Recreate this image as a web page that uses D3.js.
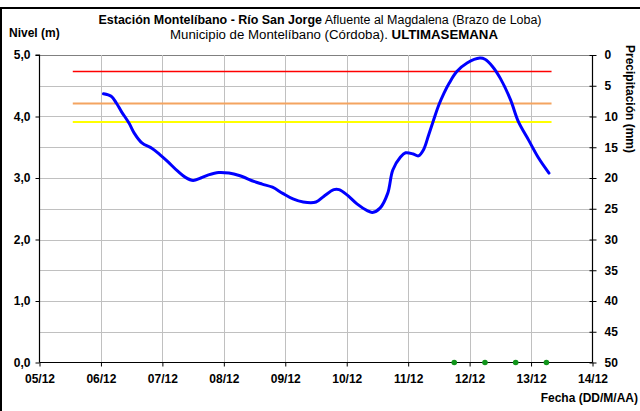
<!DOCTYPE html>
<html>
<head>
<meta charset="utf-8">
<script src="https://cdn.jsdelivr.net/npm/d3@7"></script>
<style>
  html, body { margin: 0; padding: 0; background: #fff; }
  svg { display: block; font-family: "Liberation Sans", Arial, sans-serif; }
</style>
</head>
<body>
<svg id="chart" width="640" height="411"></svg>
<script>
// Hourly river level readings (m), station Montelíbano
const levelTimes = [
  "06/12 01:00","06/12 04:00","06/12 06:00","06/12 08:00","06/12 11:00","06/12 13:00",
  "06/12 16:00","06/12 20:00","06/12 23:00","07/12 02:00","07/12 06:00","07/12 09:00",
  "07/12 12:00","07/12 15:00","07/12 18:00","07/12 22:00","08/12 02:00","08/12 06:00",
  "08/12 12:00","08/12 15:00","08/12 19:00","08/12 23:00","09/12 03:00","09/12 07:00",
  "09/12 12:00","09/12 15:00","09/12 19:00","09/12 21:00","10/12 00:00","10/12 04:00",
  "10/12 08:00","10/12 10:00","10/12 13:00","10/12 16:00","10/12 18:00","10/12 21:00",
  "10/12 23:00","11/12 02:00","11/12 04:00","11/12 06:00","11/12 08:00","11/12 10:00",
  "11/12 12:00","11/12 14:00","11/12 16:00","11/12 19:00","11/12 23:00","12/12 04:00",
  "12/12 06:00","12/12 09:00","12/12 12:00","12/12 16:00","12/12 19:00","12/12 23:00",
  "13/12 03:00","13/12 07:00"
];
const levelValues = [
  4.37, 4.33, 4.22, 4.08, 3.89, 3.73,
  3.57, 3.48, 3.38, 3.27, 3.11, 3.01,
  2.96, 3.00, 3.05, 3.09, 3.08, 3.04,
  2.94, 2.90, 2.85, 2.75, 2.66, 2.61,
  2.61, 2.70, 2.81, 2.81, 2.73, 2.58,
  2.47, 2.44, 2.51, 2.75, 3.13, 3.34,
  3.41, 3.39, 3.36, 3.46, 3.70, 3.95,
  4.19, 4.38, 4.54, 4.73, 4.87, 4.95,
  4.93, 4.81, 4.62, 4.27, 3.92, 3.62,
  3.32, 3.08
];

// Alert thresholds (m)
const thresholdNames = ["roja", "naranja", "amarilla"];
const thresholdValues = [4.73, 4.21, 3.91];
const thresholdSpan = ["05/12 13:00", "13/12 08:00"];

// Precipitation readings (mm)
const rainTimes = ["11/12 18:00", "12/12 06:00", "12/12 18:00", "13/12 06:00"];
const rainValues = [0, 0, 0, 0];

// Axis ticks
const dayTicks = ["05/12","06/12","07/12","08/12","09/12","10/12","11/12","12/12","13/12","14/12"];
const levelTicks = [0, 1, 2, 3, 4, 5];
const levelGrid = [0.5, 1, 1.5, 2, 2.5, 3, 3.5, 4, 4.5];
const rainTicks = [0, 5, 10, 15, 20, 25, 30, 35, 40, 45, 50];

const thresholdColors = { "roja": "#ff0000", "naranja": "#f4a460", "amarilla": "#ffff00" };

const parseTime = d3.timeParse("%d/%m %H:%M");
const parseDay = d3.timeParse("%d/%m");

const svg = d3.select("#chart");
const plot = { left: 39.5, right: 592.5, top: 55, bottom: 362.5 };

const x = d3.scaleTime()
  .domain([parseDay("05/12"), parseDay("14/12")])
  .range([plot.left, plot.right]);
const y = d3.scaleLinear().domain([0, 5]).range([plot.bottom, plot.top]);
const yRain = d3.scaleLinear().domain([0, 50]).range([plot.top, plot.bottom]);

// outer frame
svg.append("rect")
  .attr("x", 1).attr("y", 8).attr("width", 700).attr("height", 500)
  .attr("fill", "none").attr("stroke", "#000").attr("stroke-width", 2);

// gridlines
const grid = svg.append("g").attr("stroke", "#c0c0c0").attr("stroke-width", 1);
grid.selectAll("line.h").data(levelGrid.concat([5])).join("line")
  .attr("x1", plot.left).attr("x2", plot.right)
  .attr("y1", d => Math.round(y(d)) + 0.5).attr("y2", d => Math.round(y(d)) + 0.5)
  .attr("stroke", d => d === 5 ? "#808080" : "#c0c0c0");
grid.selectAll("line.v").data(dayTicks.slice(1, -1)).join("line")
  .attr("x1", d => Math.round(x(parseDay(d))) + 0.5).attr("x2", d => Math.round(x(parseDay(d))) + 0.5)
  .attr("y1", plot.top).attr("y2", plot.bottom);

// thresholds
svg.append("g").selectAll("line").data(thresholdNames).join("line")
  .attr("x1", x(parseTime(thresholdSpan[0])))
  .attr("x2", x(parseTime(thresholdSpan[1])))
  .attr("y1", (d, i) => y(thresholdValues[i]))
  .attr("y2", (d, i) => y(thresholdValues[i]))
  .attr("stroke", d => thresholdColors[d])
  .attr("stroke-width", d => d === "roja" ? 1.5 : 2);

// level curve
const levelData = levelTimes.map((t, i) => ({ t: parseTime(t), v: levelValues[i] }));
svg.append("path")
  .datum(levelData)
  .attr("fill", "none")
  .attr("stroke", "#0000ff")
  .attr("stroke-width", 3)
  .attr("stroke-linecap", "round")
  .attr("d", d3.line().x(d => x(d.t)).y(d => y(d.v)).curve(d3.curveCatmullRom.alpha(0.5)));

// axes
const fmtLevel = d => d3.format(".1f")(d).replace(".", ",");
const axisLeft = svg.append("g")
  .attr("transform", `translate(${plot.left},0)`)
  .call(d3.axisLeft(y).tickValues(levelTicks).tickFormat(fmtLevel).tickSize(4).tickPadding(5));
const axisBottom = svg.append("g")
  .attr("transform", `translate(0,${plot.bottom})`)
  .call(d3.axisBottom(x).tickValues(dayTicks.map(parseDay)).tickFormat(d3.timeFormat("%d/%m")).tickSize(4).tickPadding(8));
const axisRight = svg.append("g")
  .attr("transform", `translate(${plot.right},0)`)
  .call(d3.axisRight(yRain).tickValues(rainTicks).tickSizeInner(4).tickSizeOuter(0).tickPadding(8));
axisRight.selectAll(".tick line").attr("x1", -3);

[axisLeft, axisBottom, axisRight].forEach(g => {
  g.select(".domain").attr("stroke", "#000").attr("stroke-width", 1.2);
  g.selectAll(".tick line").attr("stroke", "#000");
  g.selectAll("text").attr("fill", "#000")
    .style("font-family", "'Liberation Sans', Arial, sans-serif")
    .style("font-size", "12px").style("font-weight", "bold");
});
axisLeft.select(".domain").attr("d", `M-4,${plot.top}H0V${plot.bottom}`);
axisBottom.select(".domain").attr("d", `M${plot.left},0H${plot.right}`);
axisRight.select(".domain").attr("d", `M0,${plot.top}V${plot.bottom}`);

// rain readings
svg.append("g").selectAll("circle").data(rainTimes).join("circle")
  .attr("cx", d => x(parseTime(d)))
  .attr("cy", (d, i) => y(rainValues[i]))
  .attr("r", 2.8)
  .attr("fill", "#10951a");

// titles
const title = svg.append("text")
  .attr("x", 320).attr("y", 24).attr("text-anchor", "middle")
  .attr("textLength", 443).attr("lengthAdjust", "spacingAndGlyphs")
  .style("font-size", "12.5px").attr("fill", "#000");
title.append("tspan").attr("font-weight", "bold").text("Estación Montelíbano  - Río San Jorge");
title.append("tspan").text(" Afluente al Magdalena (Brazo de Loba)");

const title2 = svg.append("text")
  .attr("x", 334).attr("y", 39).attr("text-anchor", "middle")
  .attr("textLength", 328).attr("lengthAdjust", "spacingAndGlyphs")
  .style("font-size", "12.5px").attr("fill", "#000");
title2.append("tspan").text("Municipio de Montelíbano (Córdoba). ");
title2.append("tspan").attr("font-weight", "bold").text("ULTIMASEMANA");

svg.append("text")
  .attr("x", 9).attr("y", 37)
  .style("font-size", "12px").style("font-weight", "bold")
  .text("Nivel (m)");

svg.append("text")
  .attr("x", 638).attr("y", 402).attr("text-anchor", "end")
  .style("font-size", "12px").style("font-weight", "bold")
  .text("Fecha (DD/M/AA)");

svg.append("text")
  .attr("transform", "translate(626,45) rotate(90)")
  .attr("text-anchor", "start")
  .style("font-size", "12px").style("font-weight", "bold")
  .text("Precipitación (mm)");
</script>
</body>
</html>
